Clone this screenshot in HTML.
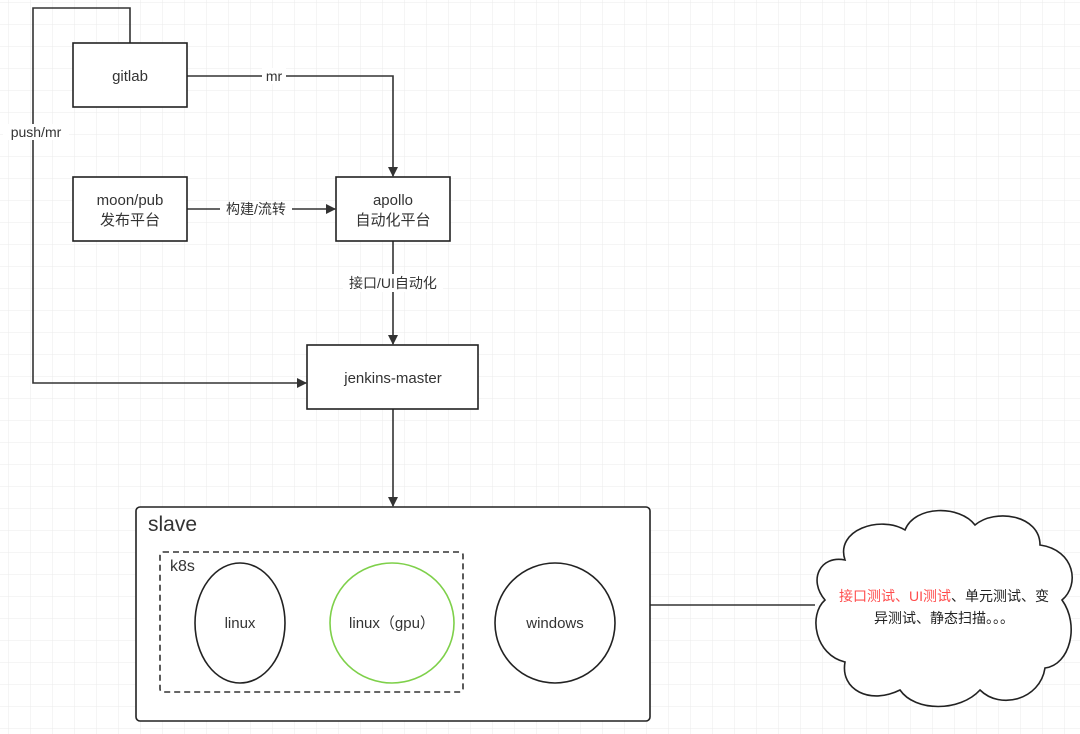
<!DOCTYPE html>
<html><head><meta charset="utf-8"><style>
body{margin:0;background:#fff}
svg{display:block;font-family:"Liberation Sans","Noto Sans CJK SC",sans-serif}
</style></head><body>
<svg width="1080" height="734" viewBox="0 0 1080 734" xmlns="http://www.w3.org/2000/svg">
<defs>
<pattern id="g" width="22" height="22" patternUnits="userSpaceOnUse" x="9" y="3">
<path d="M22 0V22M0 22H22" fill="none" stroke="#ebebeb" stroke-width="1"/>
</pattern>
<marker id="a" markerWidth="10" markerHeight="10" refX="9" refY="5" orient="auto" markerUnits="userSpaceOnUse"><path d="M0 0L10 5L0 10z" fill="#333"/></marker>
</defs>
<rect width="1080" height="734" fill="url(#g)"/>
<g fill="none" stroke="#333" stroke-width="1.6">
<path d="M130 43V8H33V383H306" marker-end="url(#a)"/>
<path d="M187 76H393V176" marker-end="url(#a)"/>
<path d="M187 209H335" marker-end="url(#a)"/>
<path d="M393 241V344" marker-end="url(#a)"/>
<path d="M393 409V506" marker-end="url(#a)"/>
<path d="M650 605H815"/>
</g>
<g fill="#fff" stroke="#222" stroke-width="1.6">
<rect x="73" y="43" width="114" height="64"/>
<rect x="73" y="177" width="114" height="64"/>
<rect x="336" y="177" width="114" height="64"/>
<rect x="307" y="345" width="171" height="64"/>
<rect x="136" y="507" width="514" height="214" rx="4"/>
</g>
<rect x="160" y="552" width="303" height="140" rx="3" fill="none" stroke="#333" stroke-width="1.6" stroke-dasharray="6,4"/>
<ellipse cx="240" cy="623" rx="45" ry="60" fill="#fff" stroke="#222" stroke-width="1.6"/>
<ellipse cx="392" cy="623" rx="62" ry="60" fill="#fff" stroke="#7ed04a" stroke-width="1.6"/>
<ellipse cx="555" cy="623" rx="60" ry="60" fill="#fff" stroke="#222" stroke-width="1.6"/>
<path d="M845 560C835 530 880 515 905 530C915 505 960 505 975 525C995 508 1040 515 1040 545C1075 550 1080 585 1062 600C1080 625 1070 665 1045 668C1040 700 1000 710 980 690C960 712 915 712 900 690C870 705 840 690 845 662C815 655 808 615 825 600C808 580 820 555 845 560Z" fill="#fff" stroke="#222" stroke-width="1.6"/>
<g font-size="15" fill="#333" text-anchor="middle">
<text x="130" y="81">gitlab</text>
<text x="130" y="205">moon/pub</text><text x="130" y="225">发布平台</text>
<text x="393" y="205">apollo</text><text x="393" y="225">自动化平台</text>
<text x="393" y="383">jenkins-master</text>
<text x="240" y="628">linux</text>
<text x="392" y="628">linux（gpu）</text>
<text x="555" y="628">windows</text>
</g>
<g font-size="14" fill="#333" text-anchor="middle">
<rect x="262" y="68" width="24" height="16" fill="#fff"/>
<text x="274" y="81">mr</text>
<rect x="3" y="124" width="66" height="16" fill="#fff"/>
<text x="36" y="137">push/mr</text>
<rect x="220" y="201" width="72" height="16" fill="#fff"/>
<text x="256" y="214">构建/流转</text>
<rect x="343" y="274" width="100" height="18" fill="#fff"/>
<text x="393" y="288">接口/UI自动化</text>
</g>
<text x="148" y="531" font-size="21" fill="#333">slave</text>
<text x="170" y="571" font-size="16" fill="#333">k8s</text>
<g font-size="14" text-anchor="middle">
<text x="944" y="601"><tspan fill="#ff4d4d">接口测试、UI测试</tspan><tspan fill="#222">、单元测试、变</tspan></text>
<text x="944" y="623" fill="#222">异测试、静态扫描。。。</text>
</g>
</svg>
</body></html>
